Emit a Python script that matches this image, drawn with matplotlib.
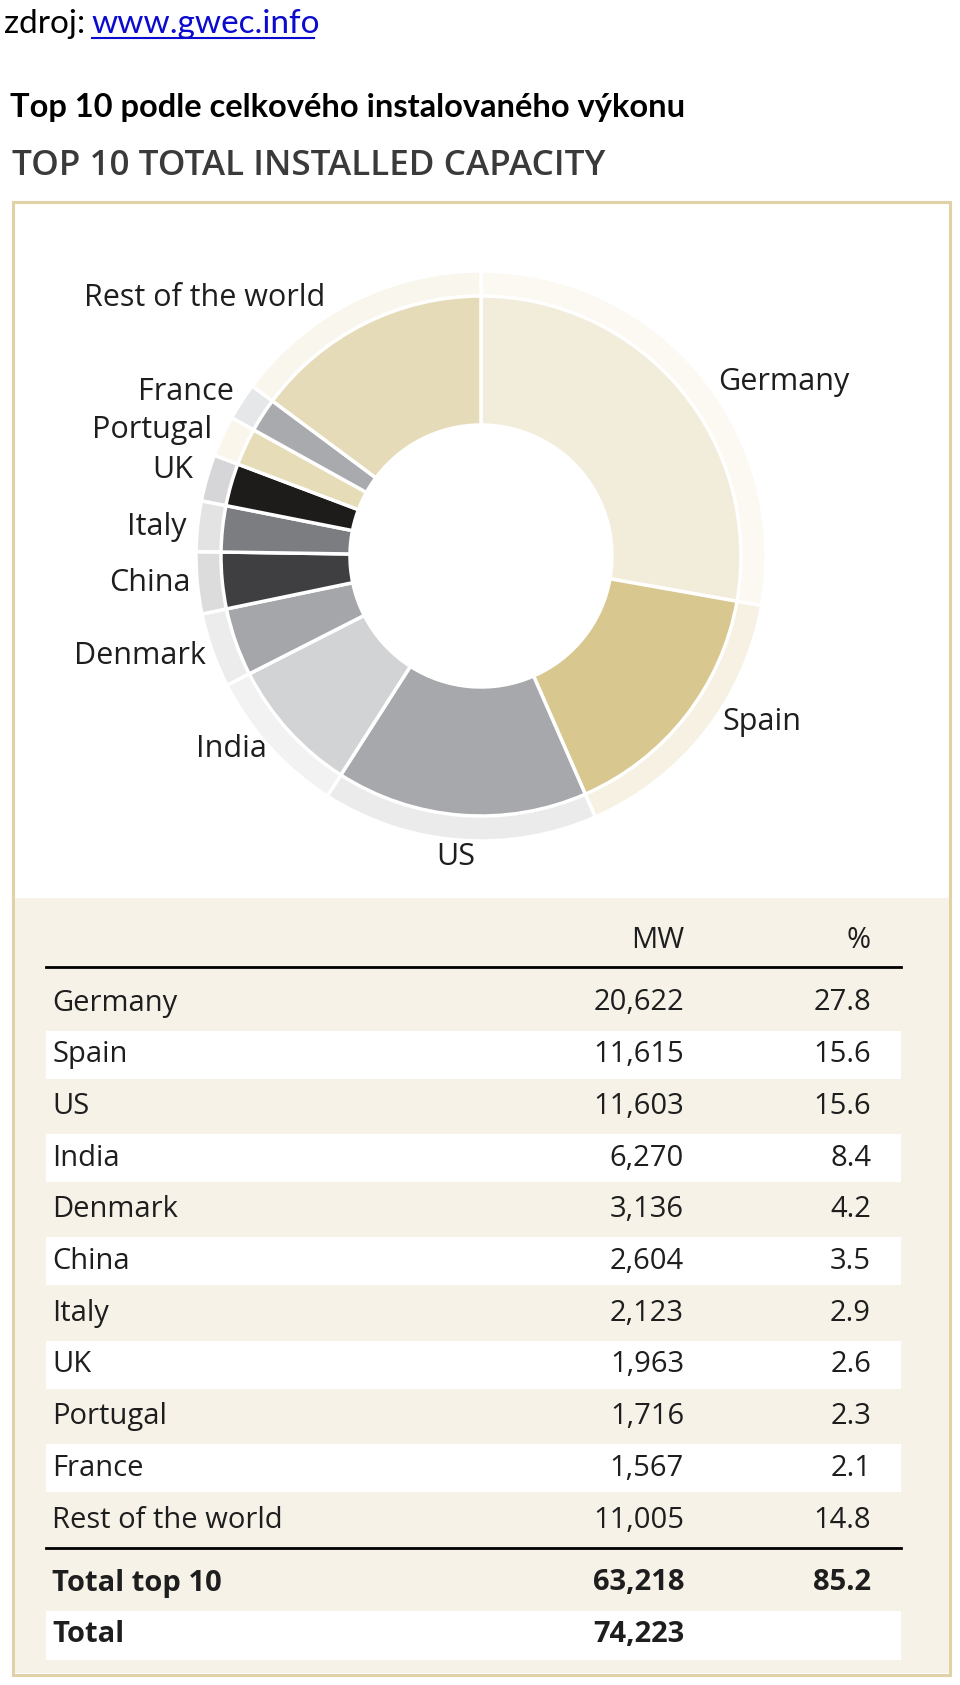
import matplotlib
matplotlib.use("Agg")
import matplotlib.pyplot as plt
from matplotlib.patches import Rectangle

countries = ["Germany", "Spain", "US", "India", "Denmark", "China",
             "Italy", "UK", "Portugal", "France", "Rest of the world"]
mw = [20622, 11615, 11603, 6270, 3136, 2604, 2123, 1963, 1716, 1567, 11005]
mw_txt = ["20,622", "11,615", "11,603", "6,270", "3,136", "2,604",
          "2,123", "1,963", "1,716", "1,567", "11,005"]
pct_txt = ["27.8", "15.6", "15.6", "8.4", "4.2", "3.5",
           "2.9", "2.6", "2.3", "2.1", "14.8"]
total_rows = [("Total top 10", "63,218", "85.2"), ("Total", "74,223", "")]

# wedge colours (inner ring) and their light tints (outer ring)
cols = ["#f2ecda", "#d9c790", "#a7a8ab", "#d2d3d5", "#a5a6a9", "#3f3f41",
        "#7c7d80", "#1e1b1b", "#e7dcb8", "#a9aaad", "#e6dbb8"]
tints = ["#fbf9f2", "#f6f1e2", "#ebebec", "#f2f2f2", "#ececec", "#dcdcdd",
         "#e3e3e4", "#d6d6d8", "#faf6ec", "#e6e7e9", "#f9f6ee"]

W, H = 960, 1685
fig = plt.figure(figsize=(W / 100, H / 100), dpi=100)
ax = fig.add_axes([0, 0, 1, 1])
ax.set_xlim(0, W)
ax.set_ylim(H, 0)
ax.axis("off")

TXT = "Open Sans"
HEAD = "Lato"
INK = "#1e1e1e"

# headings above the box
ax.text(4, 24, "zdroj:", fontsize=24, family=HEAD, va="center", ha="left")
ax.text(91, 24, "www.gwec.info", fontsize=24, family=HEAD, va="center",
        ha="left", color="#0b0bd0")
ax.plot([92, 314], [38, 38], color="#0b0bd0", lw=1.5)
ax.text(10, 108, "Top 10 podle celkového instalovaného výkonu", fontsize=23.5,
        family=HEAD, weight="bold", va="center", ha="left")
ax.text(12, 166, "TOP 10 TOTAL INSTALLED CAPACITY", fontsize=25.3,
        family=TXT, weight="semibold", va="center", ha="left", color="#3a3a3a")

# framed panel
ax.add_patch(Rectangle((15, 204), 937, 1473, facecolor="#d8d5cc", edgecolor="none"))
ax.add_patch(Rectangle((13, 202), 937, 1473, facecolor="white",
                       edgecolor="#e0d2a6", lw=2.2))
ax.add_patch(Rectangle((14.5, 898), 934, 775.5, facecolor="#f6f2e8", edgecolor="none"))

# donut
cx, cy = 481, 556
size = 600
pax = fig.add_axes([(cx - size / 2) / W, (H - cy - size / 2) / H, size / W, size / H])
pax.pie(mw, radius=285, colors=tints, startangle=90, counterclock=False,
        wedgeprops=dict(width=26, edgecolor="white", linewidth=2.5))
pax.pie(mw, radius=260, colors=cols, startangle=90, counterclock=False,
        wedgeprops=dict(width=129, edgecolor="white", linewidth=2.5))
pax.set_xlim(-size / 2, size / 2)
pax.set_ylim(-size / 2, size / 2)
pax.set_aspect("equal")
pax.axis("off")

# donut labels (x, y, ha)
lab_pos = [(718, 382, "left"), (722, 722, "left"), (456, 857, "center"),
           (231, 749, "center"), (206, 656, "right"), (191, 583, "right"),
           (186, 527, "right"), (193, 470, "right"), (212, 430, "right"),
           (234, 392, "right"), (205, 298, "center")]
for name, (x, y, ha) in zip(countries, lab_pos):
    ax.text(x, y, name, fontsize=22, family=TXT, ha=ha, va="center", color=INK)

# table
x0, x1 = 46, 901
x_name, x_mw, x_pct = 52, 684, 871
fs = 21
ax.text(x_mw, 940, "MW", fontsize=fs, family=TXT, ha="right", va="center", color=INK)
ax.text(x_pct, 940, "%", fontsize=fs, family=TXT, ha="right", va="center", color=INK)
ax.plot([x0, x1], [967, 967], color="black", lw=2)

y0, step = 1003, 51.7
for i, (name, m, p) in enumerate(zip(countries, mw_txt, pct_txt)):
    y = y0 + i * step
    if i % 2 == 1:
        ax.add_patch(Rectangle((x0, y - 24), x1 - x0, 48, facecolor="white", edgecolor="none"))
    ax.text(x_name, y, name, fontsize=fs, family=TXT, ha="left", va="center", color=INK)
    ax.text(x_mw, y, m, fontsize=fs, family=TXT, ha="right", va="center", color=INK)
    ax.text(x_pct, y, p, fontsize=fs, family=TXT, ha="right", va="center", color=INK)

ax.plot([x0, x1], [1548, 1548], color="black", lw=2)

for j, (name, m, p) in enumerate(total_rows):
    y = 1583 + j * step
    if j == 1:
        ax.add_patch(Rectangle((x0, y - 24), x1 - x0, 49, facecolor="white", edgecolor="none"))
    ax.text(x_name, y, name, fontsize=fs, family=TXT, weight="bold", ha="left", va="center", color=INK)
    ax.text(x_mw, y, m, fontsize=fs, family=TXT, weight="bold", ha="right", va="center", color=INK)
    ax.text(x_pct, y, p, fontsize=fs, family=TXT, weight="bold", ha="right", va="center", color=INK)

fig.savefig("out.png", dpi=100)
